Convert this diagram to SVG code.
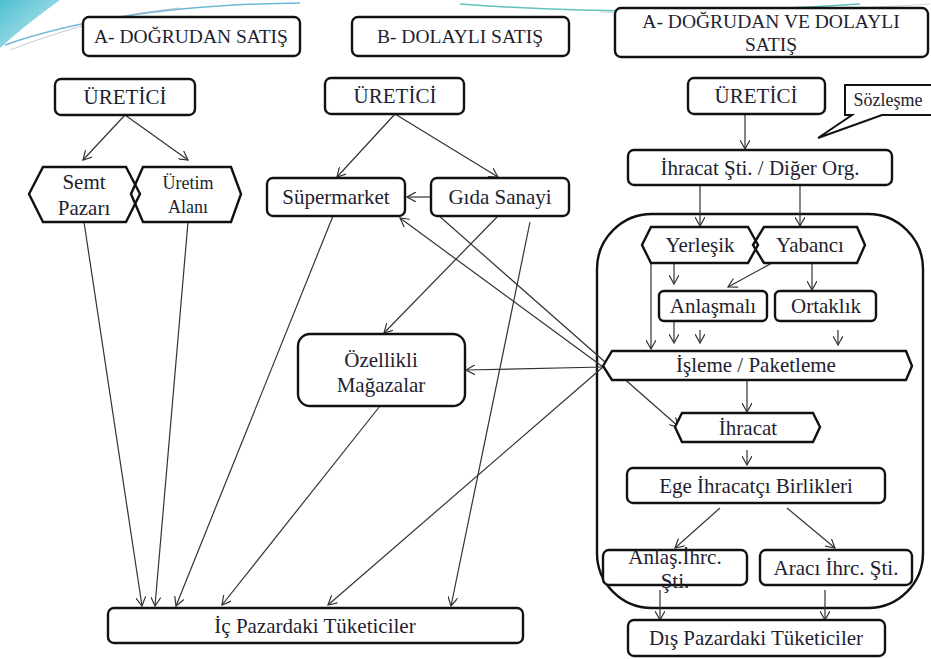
<svg xmlns="http://www.w3.org/2000/svg" width="931" height="659" viewBox="0 0 931 659">
<defs>
<marker id="ah" viewBox="0 0 10 10" refX="9" refY="5" markerWidth="10" markerHeight="10" markerUnits="userSpaceOnUse" orient="auto">
<path d="M0,0 L9,5 L0,10" fill="none" stroke="#333" stroke-width="1.2"/>
</marker>
<linearGradient id="tl" x1="0" y1="0" x2="1" y2="1">
<stop offset="0" stop-color="#2fb3c9"/>
<stop offset="1" stop-color="#bfe9ef"/>
</linearGradient>
</defs>
<style>
.box{fill:#fff;stroke:#111;stroke-width:2.4}
.t{font-family:"Liberation Serif","Times New Roman",serif;font-size:21px;fill:#1e1e30;text-anchor:middle}
.s{font-size:18px}
.h{font-size:19.5px}
.c{fill:none;stroke:#333;stroke-width:1.2}
.a{marker-end:url(#ah)}
</style>
<rect width="931" height="659" fill="#fff"/>
<g id="decor">
<path d="M0,0 L60,0 Q25,25 0,48 Z" fill="url(#tl)" opacity="0.85"/>
<path d="M5,45 Q120,5 300,3" fill="none" stroke="#4aa6d0" stroke-width="1.5" opacity="0.8"/>
<path d="M10,50 Q100,15 180,8" fill="none" stroke="#9ab" stroke-width="1" opacity="0.6"/>
<path d="M460,4 Q650,18 860,4" fill="none" stroke="#3bb3a8" stroke-width="1.5" opacity="0.8"/>
<path d="M600,12 Q700,18 930,4" fill="none" stroke="#9ab" stroke-width="1" opacity="0.5"/>
</g>
<g id="h1"><rect class="box" x="83" y="17" width="217" height="39" rx="6"/><text class="t h" x="191" y="43">A- DOĞRUDAN SATIŞ</text></g>
<g id="h2"><rect class="box" x="352" y="17" width="217" height="39" rx="6"/><text class="t h" x="460" y="43">B- DOLAYLI SATIŞ</text></g>
<g id="h3"><rect class="box" x="615" y="8" width="313" height="49" rx="6"/><text class="t h" x="771" y="28">A- DOĞRUDAN VE DOLAYLI</text><text class="t h" x="771" y="51">SATIŞ</text></g>

<g id="container"><rect x="597" y="214" width="326" height="394" rx="55" fill="none" stroke="#111" stroke-width="2.4"/></g>

<g id="connectors">
<line class="c a" x1="125" y1="115" x2="83" y2="160"/>
<line class="c a" x1="125" y1="115" x2="188" y2="160"/>
<line class="c a" x1="84" y1="222" x2="142" y2="606"/>
<line class="c a" x1="188" y1="222" x2="155" y2="606"/>
<line class="c a" x1="395" y1="114" x2="337" y2="177"/>
<line class="c a" x1="395" y1="114" x2="498" y2="177"/>
<line class="c a" x1="431" y1="197" x2="407" y2="197" stroke="#888"/>
<line class="c a" x1="333" y1="216" x2="176" y2="606"/>
<line class="c a" x1="498" y1="216" x2="384" y2="333"/>
<line class="c a" x1="530" y1="222" x2="451" y2="606"/>
<line class="c a" x1="438" y1="215" x2="679" y2="427"/>
<line class="c a" x1="603" y1="367" x2="400" y2="218"/>
<line class="c a" x1="603" y1="367" x2="466" y2="370"/>
<line class="c a" x1="603" y1="367" x2="328" y2="605"/>
<line class="c a" x1="380" y1="406" x2="222" y2="605"/>
<line class="c a" x1="745" y1="114" x2="745" y2="149"/>
<line class="c a" x1="700" y1="185" x2="700" y2="226"/>
<line class="c a" x1="800" y1="185" x2="800" y2="226"/>
<line class="c a" x1="674" y1="263" x2="674" y2="284"/>
<line class="c a" x1="651" y1="263" x2="651" y2="349"/>
<line class="c a" x1="772" y1="263" x2="728" y2="287"/>
<line class="c a" x1="812" y1="263" x2="812" y2="290"/>
<line class="c a" x1="674" y1="321" x2="674" y2="343"/>
<line class="c a" x1="700" y1="330" x2="700" y2="343"/>
<line class="c a" x1="838" y1="330" x2="838" y2="345"/>
<line class="c a" x1="747" y1="380" x2="747" y2="412"/>
<line class="c a" x1="747" y1="450" x2="747" y2="465"/>
<line class="c a" x1="720" y1="508" x2="675" y2="548"/>
<line class="c a" x1="787" y1="508" x2="835" y2="548"/>
<line class="c a" x1="660" y1="590" x2="660" y2="620"/>
<line class="c a" x1="825" y1="590" x2="825" y2="620"/>
</g>

<g id="uretici1"><rect class="box" x="55" y="79" width="140" height="36" rx="6"/><text class="t" x="125" y="104">ÜRETİCİ</text></g>
<g id="semt"><polygon class="box" points="29,194 43,167 126,167 140,194 126,222 43,222" style="fill:none"/><text class="t" x="84" y="189">Semt</text><text class="t" x="84" y="215">Pazarı</text></g>
<g id="uretim"><polygon class="box" points="131,194 143,167 231,167 241,194 231,222 143,222" style="fill:none"/><text class="t s" x="188" y="189">Üretim</text><text class="t s" x="188" y="213">Alanı</text></g>

<g id="uretici2"><rect class="box" x="325" y="78" width="139" height="36" rx="6"/><text class="t" x="395" y="103">ÜRETİCİ</text></g>
<g id="supermarket"><rect class="box" x="267" y="178" width="138" height="38" rx="6"/><text class="t" x="336" y="204">Süpermarket</text></g>
<g id="gida"><rect class="box" x="431" y="178" width="138" height="38" rx="6"/><text class="t" x="500" y="204">Gıda Sanayi</text></g>
<g id="ozellikli"><rect class="box" x="298" y="334" width="167" height="72" rx="12"/><text class="t" x="381" y="367">Özellikli</text><text class="t" x="381" y="392">Mağazalar</text></g>
<g id="icpazar"><rect class="box" x="108" y="608" width="415" height="35" rx="6"/><text class="t" x="315" y="633">İç Pazardaki Tüketiciler</text></g>

<g id="uretici3"><rect class="box" x="688" y="78" width="137" height="36" rx="6"/><text class="t" x="756" y="103">ÜRETİCİ</text></g>
<g id="sozlesme"><path d="M845,85 L935,85 L935,115 L882,115 L818,138 L852,115 L845,115 Z" fill="#fff" stroke="#111" stroke-width="2"/><text class="t s" x="888" y="106">Sözleşme</text></g>
<g id="ihracatsti"><rect class="box" x="628" y="150" width="264" height="35" rx="6"/><text class="t" x="760" y="175">İhracat Şti. / Diğer Org.</text></g>
<g id="yerlesik"><polygon class="box" points="642,245 651,227 748,227 758,245 748,263 651,263" style="fill:none"/><text class="t" x="700" y="252">Yerleşik</text></g>
<g id="yabanci"><polygon class="box" points="753,245 764,227 857,227 865,245 857,263 764,263" style="fill:none"/><text class="t" x="810" y="252">Yabancı</text></g>
<g id="anlasmali"><rect class="box" x="659" y="291" width="108" height="30" rx="5"/><text class="t" x="713" y="313">Anlaşmalı</text></g>
<g id="ortaklik"><rect class="box" x="775" y="291" width="101" height="30" rx="5"/><text class="t" x="826" y="313">Ortaklık</text></g>
<g id="isleme"><polygon class="box" points="603,366 612,351 906,351 912,366 906,380 612,380"/><text class="t" x="756" y="372">İşleme / Paketleme</text></g>
<g id="ihracat"><polygon class="box" points="675,427 682,413 813,413 820,427 813,442 682,442"/><text class="t" x="748" y="435">İhracat</text></g>
<g id="ege"><rect class="box" x="627" y="468" width="258" height="35" rx="6"/><text class="t" x="756" y="493">Ege İhracatçı Birlikleri</text></g>
<g id="anlasihrc"><rect class="box" x="603" y="550" width="144" height="35" rx="6"/><text class="t" x="675" y="564">Anlaş.İhrc.</text><text class="t" x="675" y="588">Şti.</text></g>
<g id="araci"><rect class="box" x="760" y="550" width="152" height="35" rx="6"/><text class="t" x="836" y="575">Aracı İhrc. Şti.</text></g>
<g id="dispazar"><rect class="box" x="628" y="620" width="257" height="36" rx="6"/><text class="t" x="756" y="645">Dış Pazardaki Tüketiciler</text></g>
</svg>
